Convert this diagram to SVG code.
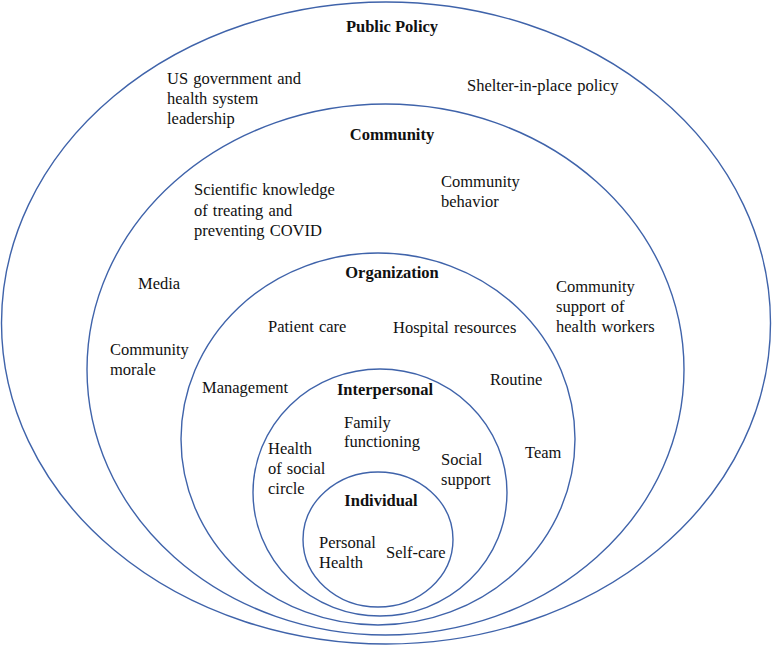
<svg xmlns="http://www.w3.org/2000/svg" width="772" height="646" viewBox="0 0 772 646">
<style>
.ring{fill:none;stroke:#3f63aa;stroke-width:1.4}
text{font-family:"Liberation Serif","Times New Roman",serif;font-size:16.5px;fill:#111;word-spacing:1px}
.h{font-weight:bold;text-anchor:middle;word-spacing:0}
</style>
<rect width="772" height="646" fill="#fff"/>
<g id="public-policy">
<ellipse class="ring" cx="386" cy="323" rx="384.5" ry="321"/>
<text class="h" x="392" y="32">Public Policy</text>
<text x="167" y="84">US government and</text>
<text x="167" y="104">health system</text>
<text x="167" y="124">leadership</text>
<text x="467" y="91">Shelter-in-place policy</text>
</g>
<g id="community">
<ellipse class="ring" cx="385.5" cy="369.5" rx="298.5" ry="265.5"/>
<text class="h" x="392" y="140">Community</text>
<text x="194" y="195">Scientific knowledge</text>
<text x="194" y="216">of treating and</text>
<text x="194" y="236">preventing COVID</text>
<text x="441" y="187">Community</text>
<text x="441" y="207">behavior</text>
<text x="138" y="289">Media</text>
<text x="110" y="355">Community</text>
<text x="110" y="375">morale</text>
<text x="556" y="292">Community</text>
<text x="556" y="312">support of</text>
<text x="556" y="332">health workers</text>
</g>
<g id="organization">
<ellipse class="ring" cx="378" cy="439" rx="197" ry="186"/>
<text class="h" x="392" y="278">Organization</text>
<text x="268" y="332">Patient care</text>
<text x="393" y="333">Hospital resources</text>
<text x="490" y="385">Routine</text>
<text x="202" y="393">Management</text>
<text x="525" y="458">Team</text>
</g>
<g id="interpersonal">
<ellipse class="ring" cx="380" cy="492.5" rx="127" ry="123.5"/>
<text class="h" x="385" y="395">Interpersonal</text>
<text x="344" y="428">Family</text>
<text x="344" y="447">functioning</text>
<text x="268" y="454">Health</text>
<text x="268" y="474">of social</text>
<text x="268" y="494">circle</text>
<text x="441" y="465">Social</text>
<text x="441" y="485">support</text>
</g>
<g id="individual">
<ellipse class="ring" cx="378" cy="539.5" rx="75" ry="67.5"/>
<text class="h" x="381" y="506">Individual</text>
<text x="319" y="548">Personal</text>
<text x="319" y="568">Health</text>
<text x="386" y="558">Self-care</text>
</g>
<g id="connectors"/>
</svg>
